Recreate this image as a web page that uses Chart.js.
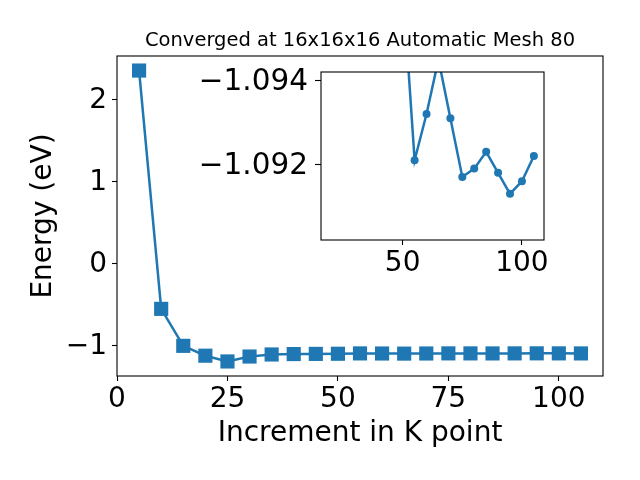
<!DOCTYPE html>
<html><head><meta charset="utf-8">
<script src="https://cdn.jsdelivr.net/npm/chart.js@4"></script>
<style>
html,body{margin:0;padding:0;background:#fff;}
#wrap{position:relative;width:640px;height:480px;}
#wrap canvas{position:absolute;left:0;top:0;}
</style></head><body>
<div id="wrap"><canvas id="main" width="640" height="480"></canvas><canvas id="inset" width="640" height="480"></canvas></div>
<script>
const kPoints = [5,10,15,20,25,30,35,40,45,50,55,60,65,70,75,80,85,90,95,100,105];
const energies = [2.35,-0.55,-1.00,-1.12,-1.19,-1.13,-1.105,-1.100,-1.098,-1.0963,-1.0921,-1.0932,-1.0945,-1.0931,-1.0917,-1.0919,-1.0923,-1.0918,-1.0913,-1.0916,-1.0922];
const mainXTicks = [0,25,50,75,100];
const mainYTicks = [-1,0,1,2];
const insetXTicks = [50,100];
const insetYTicks = [-1.094,-1.092];
const insetStart = 3;
const titleText = 'Converged at 16x16x16 Automatic Mesh 80';
const xLabel = 'Increment in K point';
const yLabel = 'Energy (eV)';

const BLUE = '#1f77b4';
const FONT = "'DejaVu Sans'";
const minus = s => String(s).replace('-', '\u2212');

const frame = {
  id: 'frame',
  beforeDraw(chart, args, opts) {
    if (opts.fill) {
      const a = chart.chartArea, c = chart.ctx;
      c.save(); c.fillStyle = '#fff'; c.fillRect(a.left, a.top, a.right - a.left, a.bottom - a.top); c.restore();
    }
  },
  afterDatasetsDraw(chart) {
    const a = chart.chartArea, c = chart.ctx;
    c.save(); c.strokeStyle = '#000'; c.lineWidth = 1.1;
    c.strokeRect(a.left, a.top, a.right - a.left, a.bottom - a.top); c.restore();
  }
};

function tickScale(ticksArr, extra, tl) {
  return Object.assign({
    type: 'linear',
    afterBuildTicks: s => { s.ticks = ticksArr.map(v => ({value: v})); },
    grid: {drawOnChartArea: false, drawTicks: true, tickLength: tl || 5, tickColor: '#000', tickWidth: 1.1},
    border: {display: false},
  }, extra);
}

const mainData = kPoints.map((x, i) => ({x, y: energies[i]}));
new Chart(document.getElementById('main'), {
  type: 'line',
  data: {datasets: [{data: mainData, borderColor: BLUE, backgroundColor: BLUE, borderWidth: 2.5,
    pointStyle: 'rect', pointRadius: 10, pointBorderWidth: 0, pointBackgroundColor: BLUE, tension: 0, fill: false}]},
  options: {
    responsive: false, animation: false, devicePixelRatio: 1,
    layout: {padding: {left: 0, right: 37, top: 0, bottom: 0}},
    plugins: {
      legend: {display: false}, tooltip: {enabled: false},
      title: {display: true, fullSize: false, text: titleText, color: '#000', font: {family: FONT, size: 19.5, weight: 'normal'}, padding: {top: 29.3, bottom: 3.3}},
      frame: {fill: false}
    },
    scales: {
      x: tickScale(mainXTicks, {min: 0, max: 110, position: 'bottom',
        afterFit: s => { s.height = 104; },
        ticks: {color: '#000', font: {family: FONT, size: 28}, padding: 2, maxRotation: 0, callback: v => minus(v)},
        title: {display: true, text: xLabel, color: '#000', font: {family: FONT, size: 28}, padding: {top: 0, bottom: 29}}}),
      y: tickScale(mainYTicks, {min: -1.367, max: 2.527, position: 'left',
        afterFit: s => { s.width = 117; },
        ticks: {color: '#000', font: {family: FONT, size: 28}, padding: 5, labelOffset: 1, callback: v => minus(v)},
        title: {display: true, text: yLabel, color: '#000', font: {family: FONT, size: 28}, padding: {top: 27, bottom: 0}}})
    }
  },
  plugins: [frame]
});

const insetData = kPoints.slice(insetStart).map((x, i) => ({x, y: energies[insetStart + i]}));
new Chart(document.getElementById('inset'), {
  type: 'line',
  data: {datasets: [{data: insetData, borderColor: BLUE, backgroundColor: BLUE, borderWidth: 2.5,
    pointStyle: 'circle', pointRadius: 4, pointBorderWidth: 0, pointBackgroundColor: BLUE, tension: 0, fill: false, clip: 0}]},
  options: {
    responsive: false, animation: false, devicePixelRatio: 1,
    layout: {padding: {left: 0, right: 96, top: 72, bottom: 0}},
    plugins: {legend: {display: false}, tooltip: {enabled: false}, title: {display: false}, frame: {fill: true}},
    scales: {
      x: tickScale(insetXTicks, {min: 15.75, max: 109.25, position: 'bottom',
        afterFit: s => { s.height = 240; },
        ticks: {color: '#000', font: {family: FONT, size: 28}, padding: 2, maxRotation: 0, callback: v => String(v)}}),
      y: tickScale(insetYTicks, {min: -1.0942, max: -1.0902, reverse: true, position: 'left',
        afterFit: s => { s.width = 321; },
        ticks: {color: '#000', font: {family: FONT, size: 29.5}, padding: 7, labelOffset: 2, callback: v => minus(Number(v).toFixed(3))}}, 6)
    }
  },
  plugins: [frame]
});
</script>
</body></html>
